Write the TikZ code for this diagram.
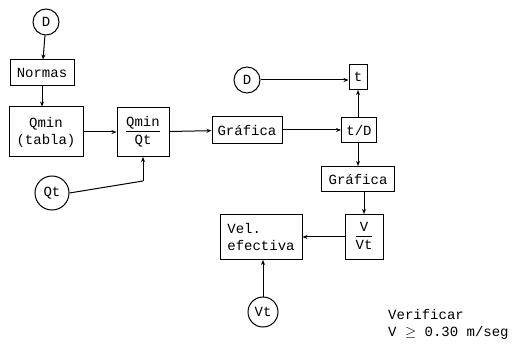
\documentclass[tikz,border=0pt]{standalone}
\usepackage{fontspec}
\setmonofont{Liberation Mono}
\usetikzlibrary{arrows.meta}
\tikzset{
  box/.style={draw, line width=1pt, inner sep=1pt, align=center},
  circ/.style={draw, circle, line width=1pt, inner sep=0pt},
  conn/.style={line width=1pt, -{Stealth[length=5pt,width=4pt]}},
  every node/.append style={font=\ttfamily\fontsize{14}{17}\selectfont}
}
\newcommand\myfr[2]{\begin{tabular}{@{}c@{}}#1\\[-1pt]\hline\rule{0pt}{13pt}#2\end{tabular}}
\begin{document}
\begin{tikzpicture}[x=1pt,y=-1pt]
\useasboundingbox (0,0) rectangle (527,347);
\node[circ, minimum size=26] (d1) at (46,22) {D};
\node[box, minimum width=64, minimum height=26] (normas) at (42,73) {Normas};
\node[box, minimum width=74, minimum height=50] (qmin) at (46,132) {Qmin\\(tabla)};
\node[box, minimum width=52, minimum height=49] (qq) at (143,132) {\myfr{Qmin}{Qt}};
\node[circ, minimum size=34] (qt) at (52,193) {Qt};
\coordinate (qtc) at (143,181);
\node[box, minimum width=70, minimum height=27] (graf1) at (247,130) {Gráfica};
\node[box, minimum width=35, minimum height=25] (td) at (359,130) {t/D};
\node[box, minimum width=18, minimum height=25] (t) at (358,77) {t};
\node[circ, minimum size=26] (d2) at (247,80) {D};
\node[box, minimum width=73, minimum height=25] (graf2) at (358,179) {Gráfica};
\node[box, minimum width=38, minimum height=45] (vvt) at (364,237) {\myfr{V}{Vt}};
\node[box, minimum width=82, minimum height=45, align=left] (vel) at (261,237) {Vel.\\efectiva};
\node[circ, minimum size=30] (vt) at (263,312) {Vt};
\node[anchor=north west, align=left, inner sep=0pt] (verif) at (388,309) {Verificar\\V\ $\geq$\ 0.30 m/seg};

\draw[conn] (d1) -- (normas);
\draw[conn] (normas) -- (normas.south |- qmin.north);
\draw[conn] (qmin) -- (qq);
\draw[line width=1pt] (qt.east) -- (qtc);
\draw[conn] (qtc) -- (qq.south);
\draw[conn] (qq) -- (graf1);
\draw[conn] (graf1) -- (td);
\draw[conn] (d2) -- (d2 -| t.west);
\draw[conn] (td.north -| t.south) -- (t.south);
\draw[conn] (td.south -| graf2.north) -- (graf2.north);
\draw[conn] (graf2.south -| vvt.north) -- (vvt.north);
\draw[conn] (vvt.west |- vel.east) -- (vel.east);
\draw[conn] (vt) -- (vt |- vel.south);
\end{tikzpicture}
\end{document}
